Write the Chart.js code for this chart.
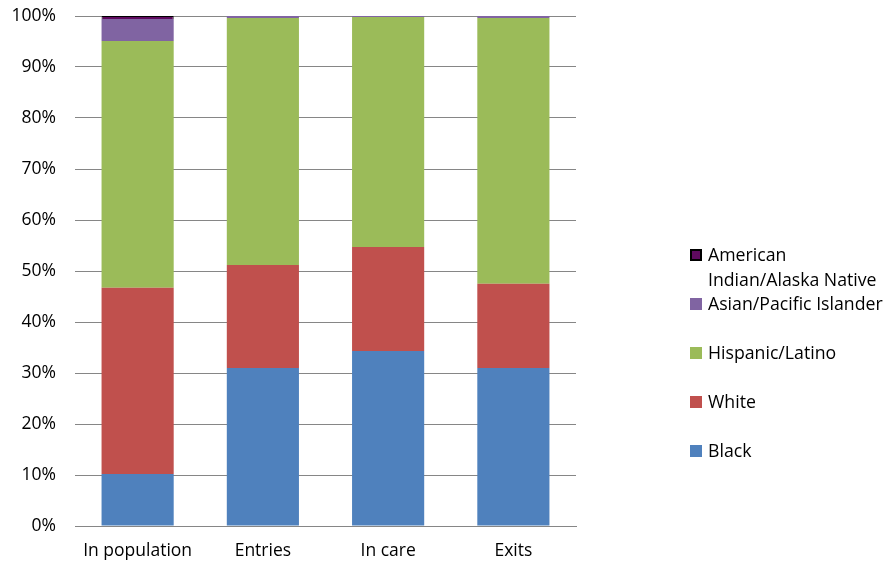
<!DOCTYPE html>
<html><head><meta charset="utf-8">
<script src="https://cdn.jsdelivr.net/npm/chart.js@4"></script>
<style>
html,body{margin:0;padding:0;background:#fff;}
#wrap{position:relative;width:888px;height:564px;}
#legend{position:absolute;left:690px;top:242px;font-family:"Open Sans",sans-serif;font-size:17.7px;color:#000;}
.item{position:absolute;left:0;white-space:nowrap;line-height:25px;}
.box{position:absolute;left:0;top:7px;width:12px;height:12px;box-sizing:border-box;}
.txt{position:absolute;left:18px;top:0;}
</style></head>
<body><div id="wrap"><canvas id="c" width="888" height="564"></canvas><div id="legend"></div></div>
<script>
const categories = ["In population","Entries","In care","Exits"];
const black    = [10.2, 31.0, 34.3, 31.0];
const white    = [36.5, 20.2, 20.4, 16.5];
const hispanic = [48.4, 48.4, 45.1, 52.1];
const asian    = [4.3, 0.4, 0.2, 0.4];
const aian     = [0.6, 0.0, 0.0, 0.0];
const seriesNames = ["Black","White","Hispanic/Latino","Asian/Pacific Islander","American Indian/Alaska Native"];
const colors = ["#4F81BD","#C0504D","#9BBB59","#8064A2","#5E0A5E"];
const borders = [null,null,null,null,"#000000"];
const tickLabels = ["0%","10%","20%","30%","40%","50%","60%","70%","80%","90%","100%"];

const seriesData = [black, white, hispanic, asian, aian];
const datasets = seriesData.map((d,i)=>({
  label: seriesNames[i], data: d, backgroundColor: colors[i],
  borderColor: borders[i] || colors[i], borderWidth: borders[i] ? 1 : 0,
  barPercentage: 0.576, categoryPercentage: 1.0
}));

const fontFam = '"Open Sans", sans-serif';
new Chart(document.getElementById('c'), {
  type: 'bar',
  data: { labels: categories, datasets },
  options: {
    responsive: false, animation: false,
    layout: { padding: { top: 16, right: 312, left: 0, bottom: 0 } },
    plugins: { legend: { display: false }, tooltip: { enabled: false } },
    scales: {
      x: {
        stacked: true,
        grid: { display: false, drawTicks: false },
        border: { display: true, color: '#868686', width: 1 },
        ticks: { color: '#000', font: { family: fontFam, size: 17.5 }, padding: 15 },
        afterFit: s => { s.height = 38; s.paddingLeft = 0; s.paddingRight = 0; }
      },
      y: {
        stacked: true, min: 0, max: 100,
        grid: { color: '#868686', drawTicks: false },
        border: { display: false },
        ticks: { stepSize: 10, color: '#000', font: { family: fontFam, size: 17.5 }, padding: 19,
          callback: (v) => tickLabels[Math.round(v/10)] },
        afterFit: s => { s.width = 75; s.paddingTop = 0; s.paddingBottom = 0; }
      }
    }
  }
});

// legend (reverse order like the reference)
const legendItems = [
  {name:"American", name2:"Indian/Alaska Native", idx:4, top:0},
  {name:"Asian/Pacific Islander", idx:3, top:49},
  {name:"Hispanic/Latino", idx:2, top:98},
  {name:"White", idx:1, top:147},
  {name:"Black", idx:0, top:196}
];
const lg = document.getElementById('legend');
legendItems.forEach(it=>{
  const d = document.createElement('div'); d.className='item'; d.style.top = it.top+'px';
  const b = document.createElement('div'); b.className='box'; b.style.background = colors[it.idx];
  if (borders[it.idx]) b.style.border = '2px solid ' + borders[it.idx];
  const t = document.createElement('div'); t.className='txt';
  t.innerHTML = it.name + (it.name2 ? '<br>' + it.name2 : '');
  d.appendChild(b); d.appendChild(t); lg.appendChild(d);
});
</script></body></html>
